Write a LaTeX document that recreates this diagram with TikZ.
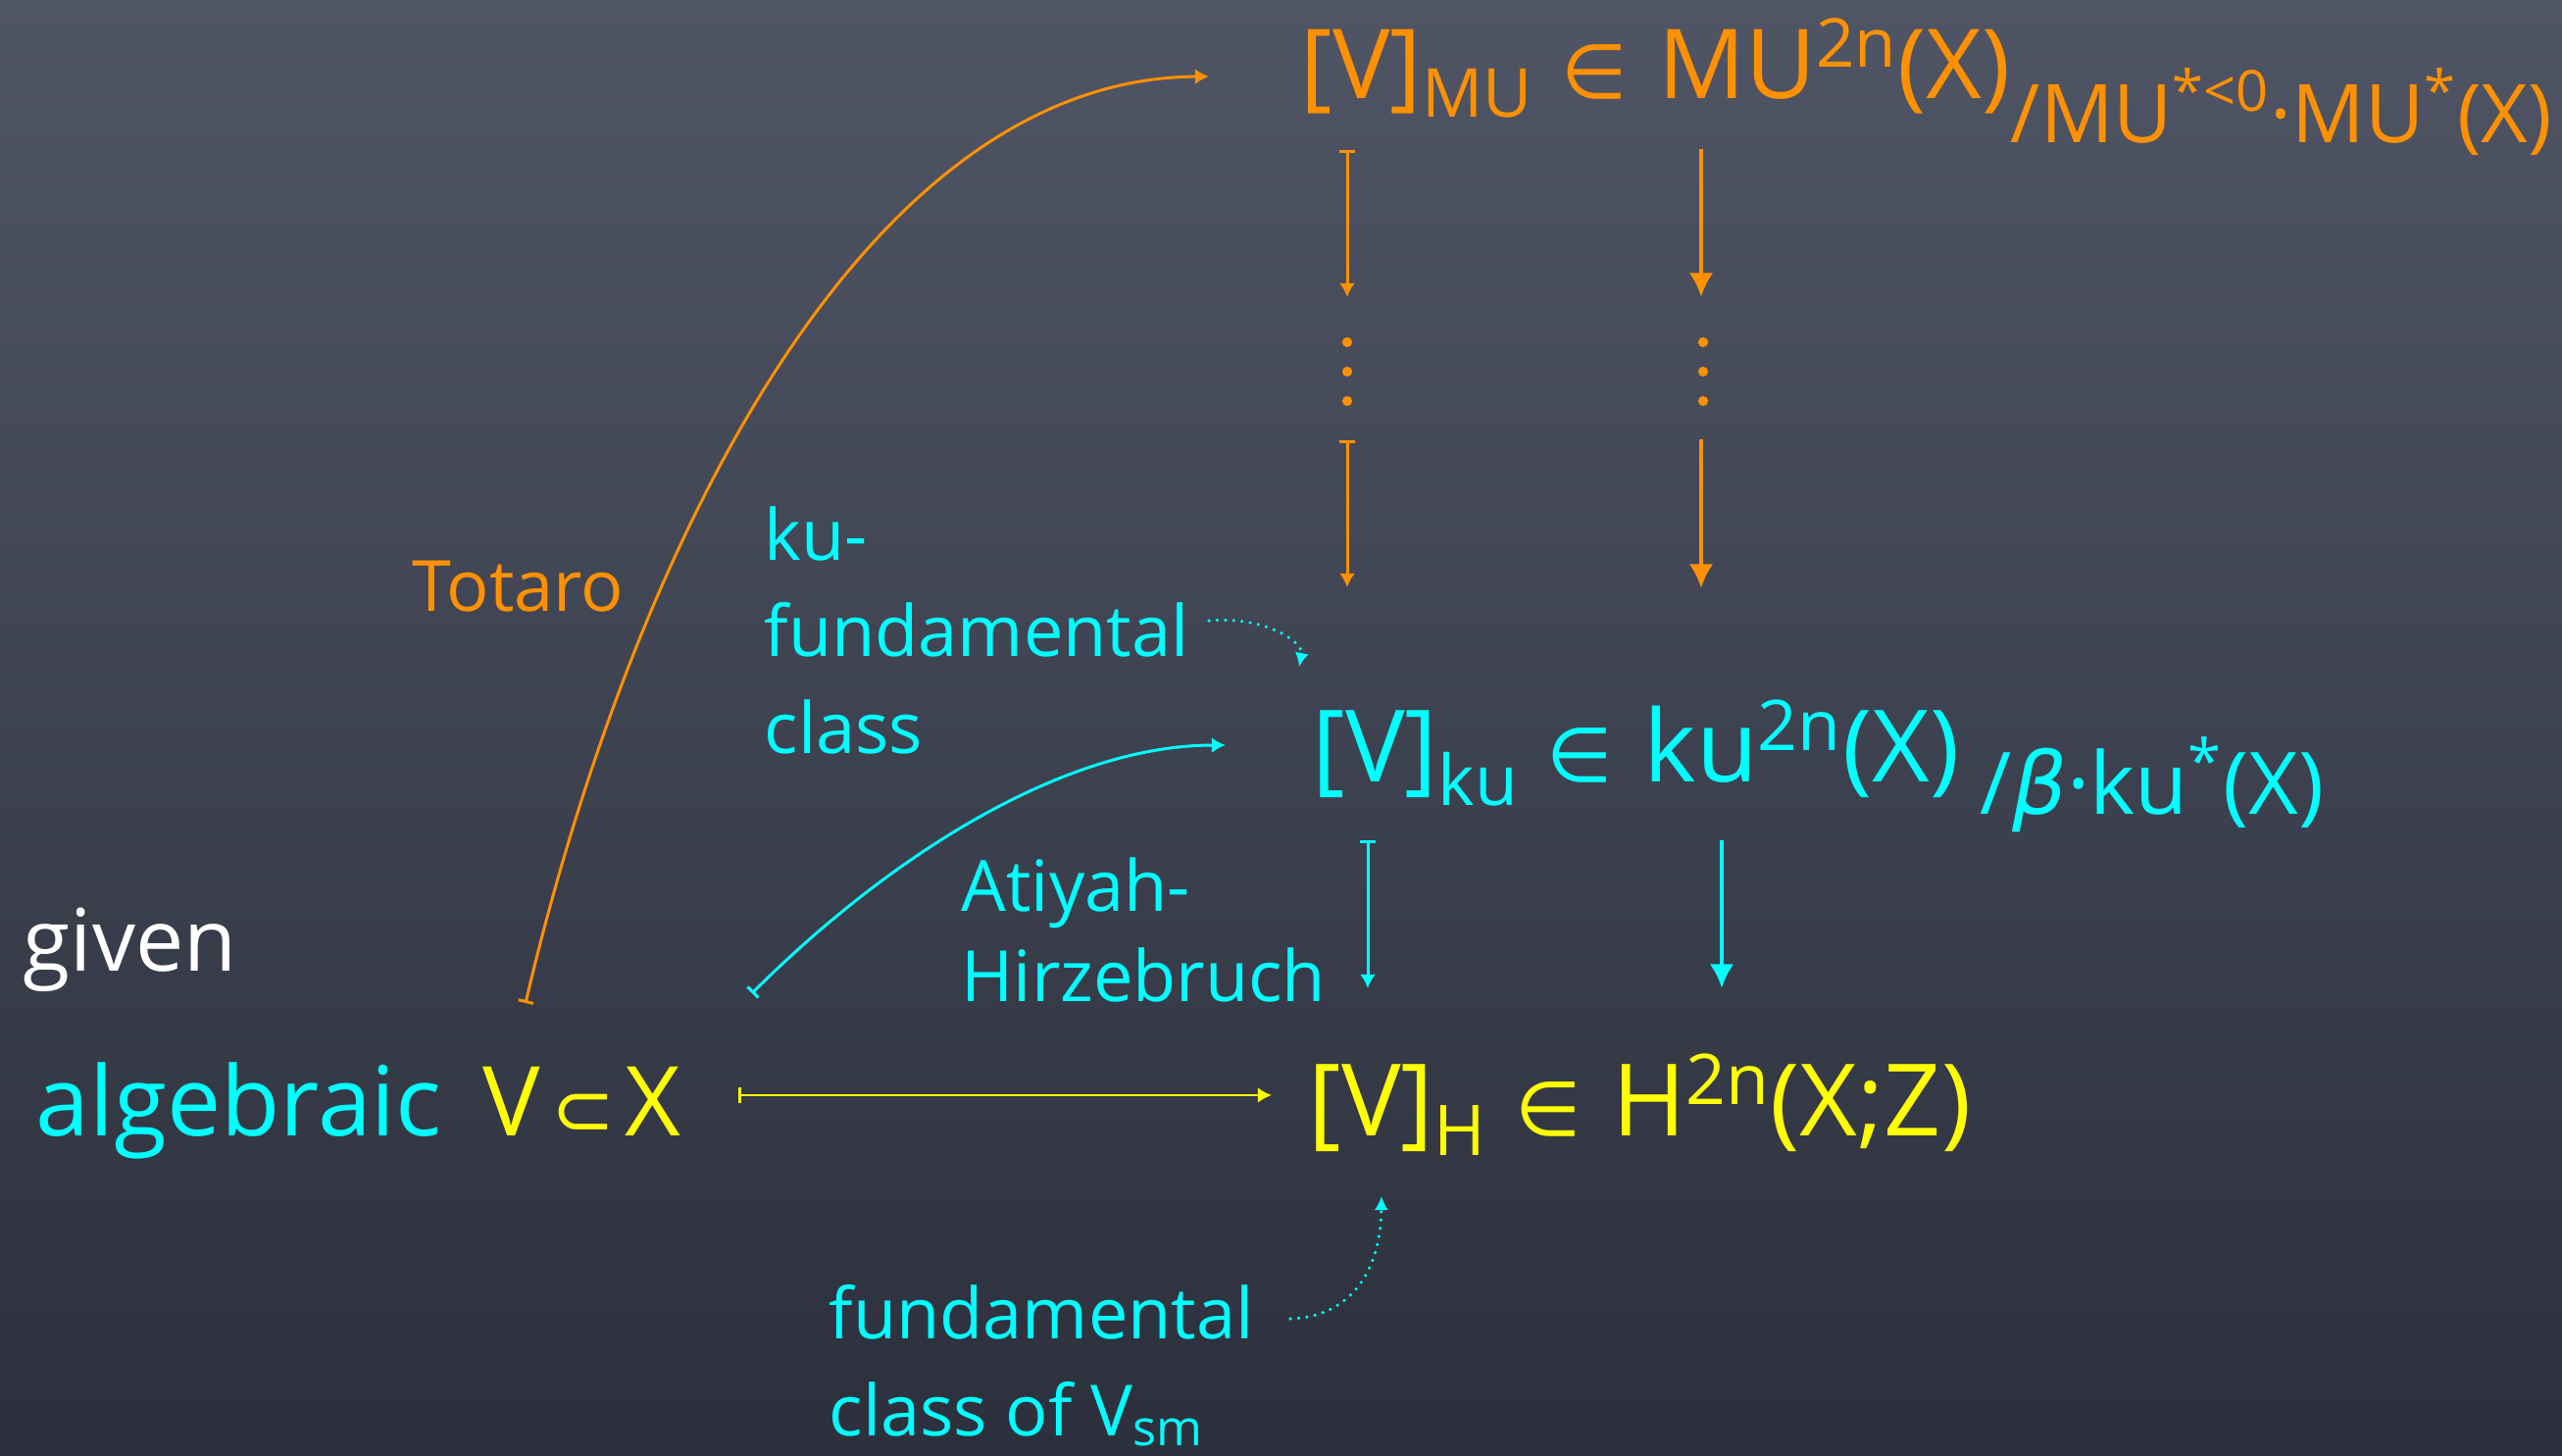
\documentclass[tikz,border=0pt]{standalone}
\usepackage{fontspec}
\setmainfont{Open Sans}
\newfontfamily\symfont{DejaVu Sans}
\usetikzlibrary{arrows.meta, positioning}

\definecolor{boardtop}{RGB}{80,85,101}
\definecolor{boardbottom}{RGB}{44,48,60}
\definecolor{chalkorange}{RGB}{255,145,0}
\definecolor{chalkcyan}{RGB}{0,255,255}
\definecolor{chalkyellow}{RGB}{255,255,0}

% small set symbols as on the board
\newcommand{\inclass}{\hspace{8pt}{\symfont\fontsize{22}{22}\selectfont ∈}\hspace{9pt}}
\newcommand{\insub}{\hspace{3pt}{\symfont\fontsize{22}{22}\selectfont ⊂}\hspace{3pt}}

\begin{document}
\begin{tikzpicture}[
  x=0.01cm, y=-0.01cm,
  formula/.style={anchor=base west, inner sep=0pt, font=\fontsize{29}{30}\selectfont},
  quotient/.style={anchor=base west, inner sep=0pt, font=\fontsize{25}{27}\selectfont},
  note/.style={anchor=base west, inner sep=0pt, align=left, font=\fontsize{20.5}{28}\selectfont},
  thinmap/.style={line width=0.85pt, {Bar[width=4.5pt]}-{Latex[length=4pt,width=4.5pt]}},
  thickmap/.style={line width=1.3pt, -{Latex[length=7pt,width=7pt]}},
  hintmap/.style={line width=1pt, line cap=round, dash pattern=on 0pt off 2.4pt, -{Latex[length=4pt,width=4pt]}},
  dotmark/.style={radius=1.45pt}
]

% Board
\useasboundingbox (0,0) rectangle (2613,1484);
\shade[top color=boardtop, bottom color=boardbottom] (0,0) rectangle (2613,1484);

% Classes
\node (mu) [formula, text=chalkorange, font=\fontsize{28}{30}\selectfont] at (1326,100) {[V]\textsubscript{MU}\inclass MU\textsuperscript{2n}(X)};
\node (muq) [quotient, text=chalkorange, font=\fontsize{23.5}{25}\selectfont] at (2050,145) {/MU\textsuperscript{*<0}·MU\textsuperscript{*}(X)};
\node (ku) [formula, text=chalkcyan] at (1338,797) {[V]\textsubscript{ku}\inclass ku\textsuperscript{2n}(X)};
\node (kuq) [quotient, text=chalkcyan] at (2019,830) {/{\symfont\itshape β}·ku\textsuperscript{*}(X)};
\node (hom) [formula, text=chalkyellow] at (1334,1158) {[V]\textsubscript{H}\inclass H\textsuperscript{2n}(X;Z)};

% Given variety
\node (given) [formula, text=white, font=\fontsize{25}{27}\selectfont] at (23,990) {given};
\node (alg) [formula, font=\fontsize{28}{30}\selectfont] at (36,1158) {\textcolor{chalkcyan}{algebraic}\hspace{12pt}\textcolor{chalkyellow}{V\insub X}};

% Labels (base = last line)
\node (totaro) [note, text=chalkorange] at (420,623) {Totaro};
\node (kufund) [note, text=chalkcyan] at (779,768) {ku-\\fundamental\\class};
\node (ah) [note, text=chalkcyan, font=\fontsize{20.5}{26}\selectfont] at (980,1021) {Atiyah-\\Hirzebruch};
\node (fund) [note, text=chalkcyan] at (845,1464) {fundamental\\class of V\textsubscript{sm}};

% Arrow ends
\coordinate (mul1) at (1374,153);  \coordinate (mul2) at (1374,303);
\coordinate (mul3) at (1374,449);  \coordinate (mul4) at (1374,599);
\coordinate (mur1) at (1735,152);  \coordinate (mur2) at (1735,303);
\coordinate (mur3) at (1735,448);  \coordinate (mur4) at (1735,600);
\coordinate (kul1) at (1395,857);  \coordinate (kul2) at (1395,1008);
\coordinate (kur1) at (1756,857);  \coordinate (kur2) at (1756,1008);
\coordinate (totail) at (536,1023);  \coordinate (tohead) at (1233,78);
\coordinate (ahtail) at (767,1013);  \coordinate (ahhead) at (1250,760);
\coordinate (kfout) at (1233,633);   \coordinate (kfin) at (1325,680);
\coordinate (fout) at (1316,1345);   \coordinate (fin) at (1409,1220);

% Arrows
\draw [thinmap, chalkorange] (mul1) -- (mul2);
\draw [thinmap, chalkorange] (mul3) -- (mul4);
\draw [thickmap, chalkorange] (mur1) -- (mur2);
\draw [thickmap, chalkorange] (mur3) -- (mur4);
\fill [chalkorange] (1374,349) circle [dotmark] (1374,379) circle [dotmark] (1374,409) circle [dotmark];
\fill [chalkorange] (1737,349) circle [dotmark] (1737,379) circle [dotmark] (1737,409) circle [dotmark];
\draw [thinmap, chalkcyan] (kul1) -- (kul2);
\draw [thickmap, chalkcyan] (kur1) -- (kur2);
\draw [thinmap, chalkyellow] ([xshift=0.58cm,yshift=0.41cm]alg.base east) -- ([xshift=-0.37cm,yshift=0.41cm]hom.base west);
\draw [thinmap, chalkorange] (totail) .. controls (645,560) and (880,80) .. (tohead);
\draw [thinmap, chalkcyan] (ahtail) .. controls (900,880) and (1080,760) .. (ahhead);
\draw [hintmap, chalkcyan] (kfout) .. controls (1290,628) and (1330,655) .. (kfin);
\draw [hintmap, chalkcyan] (fout) .. controls (1375,1343) and (1408,1300) .. (fin);
\end{tikzpicture}
\end{document}
